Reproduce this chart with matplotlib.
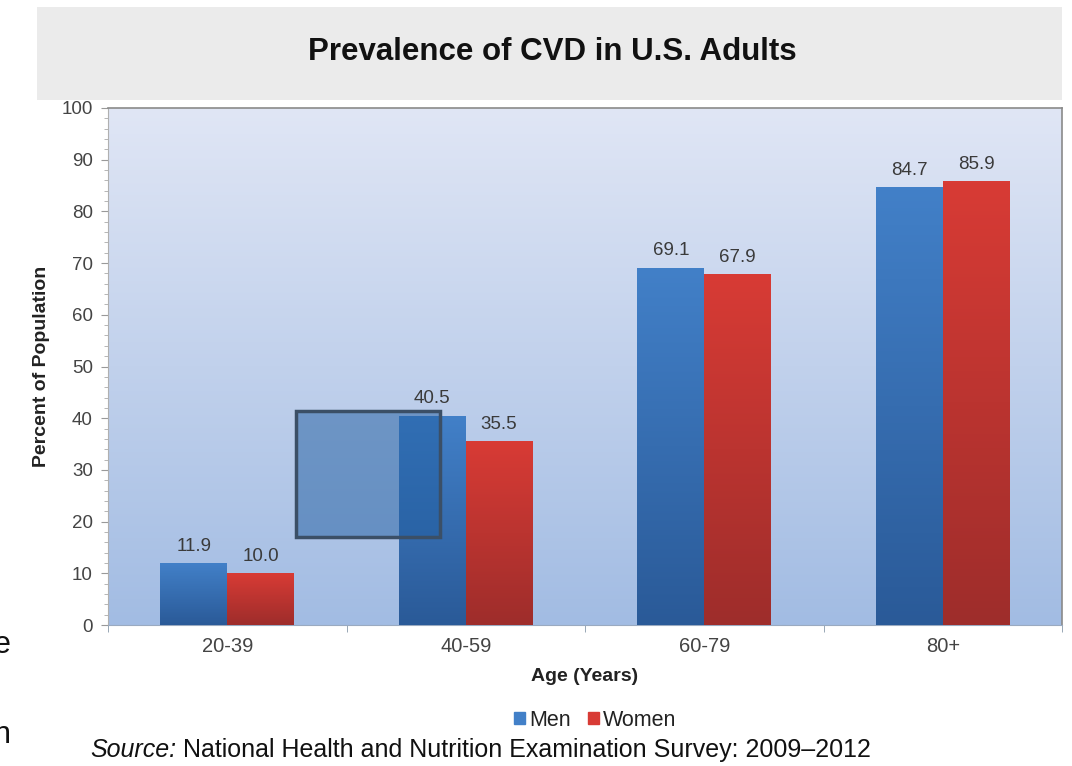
import matplotlib.pyplot as plt
import numpy as np
from matplotlib.patches import Rectangle
from matplotlib.ticker import MultipleLocator

plt.rcParams['font.family'] = ['Liberation Sans', 'DejaVu Sans']

# data
age_groups = ['20-39', '40-59', '60-79', '80+']
men = [11.9, 40.5, 69.1, 84.7]
women = [10.0, 35.5, 67.9, 85.9]
# stray box that sits on top of the slide (data coords: x0, x1, y0, y1)
overlay_box = [0.288, 0.892, 17.0, 41.4]

men_top, men_bot = '#4280c8', '#2a5a98'
women_top, women_bot = '#d83b35', '#9e2d2b'

fig = plt.figure(figsize=(10.72, 7.66), dpi=100)

# grey title band
fig.patches.append(Rectangle((37 / 1072, 1 - 100 / 766), 1025 / 1072, 93 / 766,
                             transform=fig.transFigure, facecolor='#ebebeb',
                             edgecolor='none', zorder=0))
fig.text(552 / 1072, 1 - 52 / 766, 'Prevalence of CVD in U.S. Adults',
         ha='center', va='center', fontsize=22.5, fontweight='bold', color='#111111')

ax = fig.add_axes([108 / 1072, 1 - 625 / 766, 954 / 1072, 517 / 766])
ax.set_xlim(-0.5, 3.5)
ax.set_ylim(0, 100)

# background gradient
grad = np.linspace(0, 1, 256).reshape(-1, 1)
bg = np.zeros((256, 1, 3))
top_c = np.array([0xe0, 0xe6, 0xf5]) / 255
bot_c = np.array([0xa2, 0xbc, 0xe3]) / 255
bg[:, 0, :] = top_c * (1 - grad) + bot_c * grad
ax.imshow(bg, extent=[0, 1, 0, 1], transform=ax.transAxes, aspect='auto', zorder=0)

x = np.arange(len(age_groups))
w = 0.28


def gradient_bars(xs, vals, c_top, c_bot):
    bars = ax.bar(xs, vals, width=w, color=c_top, zorder=2, linewidth=0)
    t = np.linspace(0, 1, 128).reshape(-1, 1)
    img = np.zeros((128, 1, 3))
    ct = np.array(plt.matplotlib.colors.to_rgb(c_top))
    cb = np.array(plt.matplotlib.colors.to_rgb(c_bot))
    img[:, 0, :] = ct * (1 - t) + cb * t
    for b in bars:
        x0, y0 = b.get_x(), b.get_y()
        im = ax.imshow(img, extent=[x0, x0 + b.get_width(), y0, y0 + b.get_height()],
                       aspect='auto', zorder=3)
        im.set_clip_path(b)
    return bars


bm = gradient_bars(x - w / 2, men, men_top, men_bot)
bw = gradient_bars(x + w / 2, women, women_top, women_bot)

for bars, vals in ((bm, men), (bw, women)):
    for b, v in zip(bars, vals):
        ax.annotate(f'{v:.1f}', (b.get_x() + b.get_width() / 2, v),
                    xytext=(0, 6), textcoords='offset points', ha='center', va='bottom',
                    fontsize=13.5, color='#3a3a3a', zorder=5)

ax.set_xlim(-0.5, 3.5)
ax.set_ylim(0, 100)

# overlay box
ob = overlay_box
ax.add_patch(Rectangle((ob[0], ob[2]), ob[1] - ob[0], ob[3] - ob[2],
                       facecolor=(0.13, 0.37, 0.63, 0.5), edgecolor='#3b4f66',
                       linewidth=2.5, zorder=6))

ax.set_yticks(np.arange(0, 101, 10))
ax.yaxis.set_minor_locator(MultipleLocator(2))
ax.set_xticks(x)
ax.set_xticklabels(age_groups)
ax.set_xticks(np.arange(-0.5, 3.6, 1), minor=True)
ax.tick_params(axis='x', which='major', length=0, pad=9, labelsize=14.5, labelcolor='#444444')
ax.tick_params(axis='x', which='minor', length=5, color='#8899aa', direction='out')
ax.tick_params(axis='y', which='major', length=5, color='#999999', labelsize=13.5,
               labelcolor='#444444', pad=6)
ax.tick_params(axis='y', which='minor', length=3, color='#aaaaaa')

for s in ('top', 'right'):
    ax.spines[s].set_color('#8a8a8a')
    ax.spines[s].set_linewidth(1.2)
ax.spines['left'].set_color('#b0b0b0')
ax.spines['bottom'].set_color('#9aaac0')

ax.set_ylabel('Percent of Population', fontsize=14, fontweight='bold', color='#222222', labelpad=8)
ax.set_xlabel('Age (Years)', fontsize=14, fontweight='bold', color='#222222', labelpad=8)

# legend
handles = [Rectangle((0, 0), 1, 1, color=men_top), Rectangle((0, 0), 1, 1, color=women_top)]
fig.legend(handles, ['Men', 'Women'], loc='center', bbox_to_anchor=(595 / 1072, 1 - 720 / 766),
           ncol=2, frameon=False, fontsize=15.5, handlelength=0.5, handleheight=0.5,
           handletextpad=0.2, columnspacing=0.8, labelcolor='#222222')

# source line
src = fig.text(90 / 1072, 1 - 750 / 766, 'Source:', fontstyle='italic', fontsize=18,
               va='center', ha='left', color='#111111')
plt.annotate(' National Health and Nutrition Examination Survey: 2009\u20132012',
             xy=(1, 0), xycoords=src, va='bottom', ha='left', fontsize=18,
             color='#111111', annotation_clip=False)

# clipped glyphs from the slide behind the chart
fig.text(-0.006, 1 - 645 / 766, 'e', fontsize=22, va='center', ha='left', color='#111111')
fig.text(-0.006, 1 - 735 / 766, 'n', fontsize=22, va='center', ha='left', color='#111111')

fig.savefig('out.png', dpi=100)
